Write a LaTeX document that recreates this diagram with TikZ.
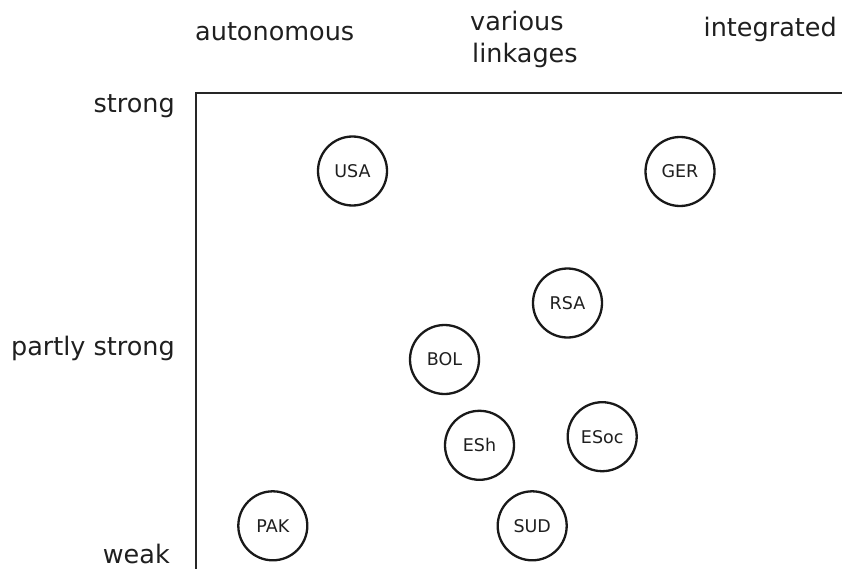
\documentclass[tikz,border=0pt]{standalone}
\usepackage{fontspec}
\setmainfont{DejaVu Sans}
\begin{document}
\begin{tikzpicture}[x=1pt,y=1pt,
  axislbl/.style={font=\fontsize{25.5}{30}\selectfont, text=black!88, inner sep=0pt},
  country/.style={circle, draw=black!90, line width=2.3pt, minimum size=69pt, inner sep=0pt, font=\fontsize{17.5}{20}\selectfont, text=black!88},
  axisline/.style={line width=2.8pt, draw=black!85}]
\useasboundingbox (0,0) rectangle (842,-572);
\coordinate (corner) at (196,-93);
\coordinate (xend) at (842,-93);
\coordinate (yend) at (196,-569);
\draw[axisline] (xend) -- (corner) -- (yend);
\node[axislbl, anchor=base west] (auto) at (195,-41) {autonomous};
\node[axislbl, anchor=base west] (varA) at (470,-31) {various};
\node[axislbl, anchor=base west] (varB) at (472,-63) {linkages};
\node[axislbl, anchor=base east] (integ) at (837,-37) {integrated};
\node[axislbl, anchor=base east] (strong) at (175,-113) {strong};
\node[axislbl, anchor=base east] (partly) at (175,-355) {partly strong};
\node[axislbl, anchor=base east] (weak) at (170,-563) {weak};
\node[country] (USA) at (352.5,-171) {USA};
\node[country] (GER) at (680,-171.5) {GER};
\node[country] (RSA) at (567.5,-303) {RSA};
\node[country] (BOL) at (444.5,-359.5) {BOL};
\node[country] (ESh) at (479.5,-445.3) {ESh};
\node[country] (ESoc) at (602.2,-436.7) {ESoc};
\node[country] (PAK) at (272.8,-525.8) {PAK};
\node[country] (SUD) at (532.2,-525.8) {SUD};
\end{tikzpicture}
\end{document}
